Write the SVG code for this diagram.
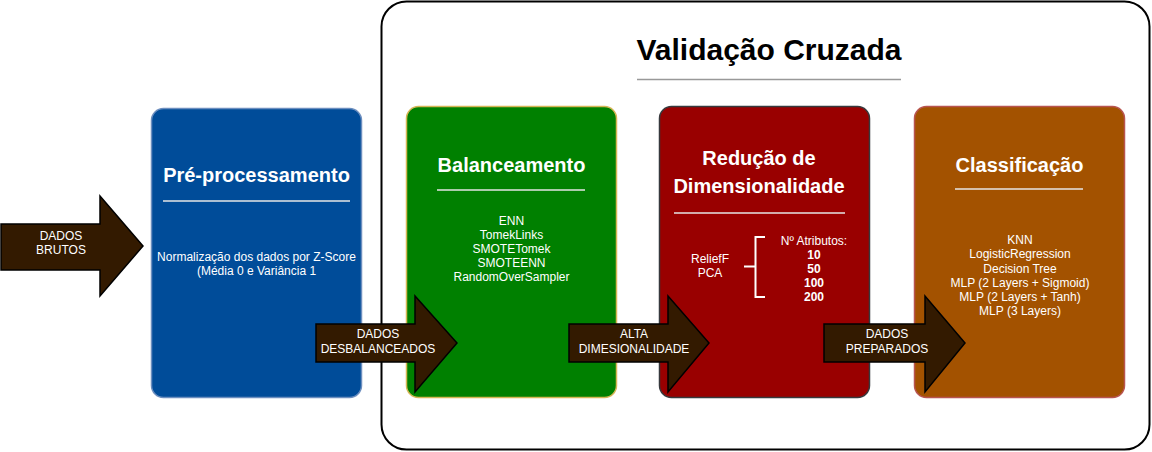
<svg xmlns="http://www.w3.org/2000/svg" width="1152" height="452" viewBox="0 0 1152 452">
<style>
.t{font-family:"Liberation Sans",Arial,sans-serif;fill:#fff;text-anchor:middle}
.h{font-size:20px;font-weight:bold}
.b{font-size:12px}
.bb{font-size:12px;font-weight:bold}
.div{stroke:#E6E6E6;stroke-width:1.5}
.arrow{fill:#331A00;stroke:#000;stroke-width:1.5}
</style>
<rect width="1152" height="452" fill="#fff"/>
<g id="validacao">
<rect x="381.5" y="1.5" width="768" height="448" rx="25" fill="#fff" stroke="#000" stroke-width="2"/>
<text x="769" y="60" font-family="Liberation Sans,Arial,sans-serif" font-size="30" font-weight="bold" text-anchor="middle" fill="#000">Validação Cruzada</text>
<line x1="637" y1="79.5" x2="901" y2="79.5" stroke="#999" stroke-width="1.5"/>
</g>
<g id="pre">
<rect x="151.5" y="108.5" width="210" height="289" rx="12" fill="#004C99" stroke="#6C8EBF" stroke-width="1.5"/>
<text class="t h" x="256.5" y="182">Pré-processamento</text>
<line class="div" x1="163" y1="201" x2="350" y2="201"/>
<text class="t b" x="256.5" y="261">Normalização dos dados por Z-Score</text>
<text class="t b" x="256.5" y="275">(Média 0 e Variância 1</text>
</g>
<g id="balanceamento">
<rect x="406.5" y="106.5" width="210" height="291" rx="12" fill="#008000" stroke="#D6B656" stroke-width="1.5"/>
<text class="t h" x="511.5" y="172">Balanceamento</text>
<line class="div" x1="437" y1="190" x2="585" y2="190"/>
<text class="t b" x="511.5" y="225">ENN</text>
<text class="t b" x="511.5" y="239">TomekLinks</text>
<text class="t b" x="511.5" y="253">SMOTETomek</text>
<text class="t b" x="511.5" y="267">SMOTEENN</text>
<text class="t b" x="511.5" y="281">RandomOverSampler</text>
</g>
<g id="reducao">
<rect x="659.5" y="106.5" width="210" height="291" rx="12" fill="#990000" stroke="#36393D" stroke-width="1.5"/>
<text class="t h" x="759" y="165">Redução de</text>
<text class="t h" x="759" y="193">Dimensionalidade</text>
<line class="div" x1="674" y1="213" x2="845" y2="213"/>
<text class="t b" x="710" y="263">ReliefF</text>
<text class="t b" x="710" y="277">PCA</text>
<path d="M744,266.5 H755.5 M765,237 H755.5 V297 H765" fill="none" stroke="#fff" stroke-width="2"/>
<text class="t b" x="814" y="245">Nº Atributos:</text>
<text class="t bb" x="814" y="259">10</text>
<text class="t bb" x="814" y="273">50</text>
<text class="t bb" x="814" y="287">100</text>
<text class="t bb" x="814" y="301">200</text>
</g>
<g id="classificacao">
<rect x="914.5" y="106.5" width="210" height="291" rx="12" fill="#A35200" stroke="#B85450" stroke-width="1.5"/>
<text class="t h" x="1019.5" y="172">Classificação</text>
<line class="div" x1="955" y1="189" x2="1083" y2="189"/>
<text class="t b" x="1020" y="244">KNN</text>
<text class="t b" x="1020" y="258">LogisticRegression</text>
<text class="t b" x="1020" y="273">Decision Tree</text>
<text class="t b" x="1020" y="287">MLP (2 Layers + Sigmoid)</text>
<text class="t b" x="1020" y="301">MLP (2 Layers + Tanh)</text>
<text class="t b" x="1020" y="315">MLP (3 Layers)</text>
</g>
<g id="connectors">
<g id="a1">
<path class="arrow" d="M1,224 H100 V196 L143,246 L100,296 V270 H1 Z"/>
<text class="t b" x="61" y="240">DADOS</text>
<text class="t b" x="61" y="254">BRUTOS</text>
</g>
<g id="a2">
<path class="arrow" d="M316,324 H415 V296 L457,343 L415,392 V362 H316 Z"/>
<text class="t b" x="378" y="338">DADOS</text>
<text class="t b" x="378" y="353">DESBALANCEADOS</text>
</g>
<g id="a3">
<path class="arrow" d="M569,324 H668 V296 L709,343 L668,392 V362 H569 Z"/>
<text class="t b" x="634" y="338">ALTA</text>
<text class="t b" x="634" y="353">DIMESIONALIDADE</text>
</g>
<g id="a4">
<path class="arrow" d="M824,324 H925 V296 L965,343 L925,392 V362 H824 Z"/>
<text class="t b" x="887" y="338">DADOS</text>
<text class="t b" x="887" y="353">PREPARADOS</text>
</g>
</g>
</svg>
